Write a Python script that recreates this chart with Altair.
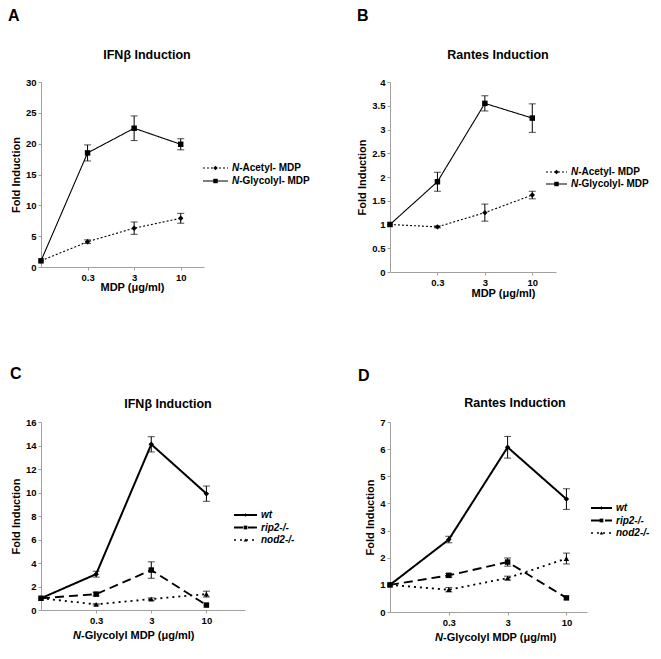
import altair as alt
import pandas as pd

FONT = "Liberation Sans"
AXIS_GRAY = "#a0a0a0"

# ---- data ----
doses = ["0", "0.3", "3", "10"]

ab_series = ["N-Acetyl- MDP", "N-Glycolyl- MDP"]
a_acetyl = [1.0, 4.1, 6.3, 7.9]
a_acetyl_err = [0.0, 0.3, 1.0, 0.8]
a_glyco = [1.0, 18.5, 22.5, 19.9]
a_glyco_err = [0.0, 1.3, 2.0, 0.9]

b_acetyl = [1.0, 0.95, 1.25, 1.62]
b_acetyl_err = [0.0, 0.02, 0.18, 0.08]
b_glyco = [1.0, 1.9, 3.55, 3.24]
b_glyco_err = [0.0, 0.2, 0.16, 0.3]

cd_series = ["wt", "rip2-/-", "nod2-/-"]
c_wt = [1.0, 3.05, 14.1, 9.9]
c_wt_err = [0.0, 0.25, 0.65, 0.65]
c_rip2 = [1.0, 1.35, 3.4, 0.42]
c_rip2_err = [0.0, 0.15, 0.7, 0.0]
c_nod2 = [1.0, 0.48, 0.93, 1.35]
c_nod2_err = [0.0, 0.05, 0.1, 0.25]

d_wt = [1.0, 2.67, 6.07, 4.16]
d_wt_err = [0.0, 0.12, 0.4, 0.38]
d_rip2 = [1.0, 1.35, 1.84, 0.52]
d_rip2_err = [0.0, 0.07, 0.15, 0.0]
d_nod2 = [1.0, 0.82, 1.25, 1.97]
d_nod2_err = [0.0, 0.08, 0.07, 0.2]

LABEL_EXPR = "[" + ",".join("'%s'" % d for d in doses) + "][datum.value]"


def make_df(series, vals_list, errs_list):
    rows = []
    for s, vals, errs in zip(series, vals_list, errs_list):
        for i, (v, e) in enumerate(zip(vals, errs)):
            rows.append(dict(series=s, pos=i, dose=doses[i], y=v, lo=v - e, hi=v + e, err=e))
    return pd.DataFrame(rows)


def axis_style(**kw):
    base = dict(labelFont=FONT, labelFontSize=9.5, labelFontWeight="bold", labelColor="black",
                titleFont=FONT, titleFontSize=11, titleFontWeight="bold", titleColor="black",
                domainColor=AXIS_GRAY, tickColor=AXIS_GRAY, tickSize=3, grid=False,
                labelOverlap=False)
    base.update(kw)
    return alt.Axis(**base)


def panel(letter, heading, series, vals, errs, shapes, sizes, dashes, widths,
          ymax, ystep, w, h, xmax, xtitle, xtitle_x, x_title_pad,
          head_xy, letter_xy, leg_xr, leg_yr, leg_size, leg_sw, italic_split,
          italic_xtitle=None):
    df = make_df(series, vals, errs)
    dfe = df[df["err"] > 0]
    yvals = []
    v = 0.0
    while v <= ymax + 1e-9:
        yvals.append(round(v, 3))
        v += ystep

    x_scale = alt.Scale(domain=[0, xmax], nice=False, zero=False)
    y_scale = alt.Scale(domain=[0, ymax], nice=False, zero=True)
    if italic_xtitle is None:
        x_axis = axis_style(values=[1, 2, 3], labelExpr=LABEL_EXPR, title=xtitle,
                            titleX=xtitle_x, titlePadding=x_title_pad, labelPadding=2)
    else:
        x_axis = axis_style(values=[1, 2, 3], labelExpr=LABEL_EXPR, title=None, labelPadding=2)
    y_axis = axis_style(values=yvals, format="~g", title="Fold Induction",
                        labelPadding=2, titlePadding=4)

    def xe(field="pos"):
        return alt.X(f"{field}:Q", scale=x_scale, axis=x_axis)

    def ye(field):
        return alt.Y(f"{field}:Q", scale=y_scale, axis=y_axis)

    def dash_enc():
        return alt.StrokeDash("series:N", scale=alt.Scale(domain=series, range=dashes), legend=None)

    def shape_enc():
        return alt.Shape("series:N", scale=alt.Scale(domain=series, range=shapes), legend=None)

    def width_enc(rng):
        return alt.StrokeWidth("series:N", scale=alt.Scale(domain=series, range=rng), legend=None)

    base = alt.Chart(df)
    lines = base.mark_line(color="black").encode(
        x=xe(), y=ye("y"), strokeDash=dash_enc(), strokeWidth=width_enc(widths))
    ebase = alt.Chart(dfe)
    rules = ebase.mark_rule(color="black", strokeWidth=1).encode(x=xe(), y=ye("lo"), y2="hi:Q")
    cap_lo = ebase.mark_tick(color="black", thickness=1, size=7, orient="horizontal").encode(x=xe(), y=ye("lo"))
    cap_hi = ebase.mark_tick(color="black", thickness=1, size=7, orient="horizontal").encode(x=xe(), y=ye("hi"))
    points = base.mark_point(filled=True, color="black", opacity=1).encode(
        x=xe(), y=ye("y"), shape=shape_enc(),
        size=alt.Size("series:N", scale=alt.Scale(domain=series, range=sizes), legend=None),
    )
    data_layer = alt.layer(lines, rules, cap_lo, cap_hi, points)

    # ---- legend drawn through its own small scales ----
    leg_rows = []
    for s in series:
        leg_rows.append(dict(series=s, lx=0.0))
        leg_rows.append(dict(series=s, lx=1.0))
    leg_line_df = pd.DataFrame(leg_rows)
    lab_rows = []
    for s in series:
        if italic_split:
            ital, rest = s[0], s[1:]
        else:
            ital, rest = s, ""
        lab_rows.append(dict(series=s, mid=0.5, end=1.0, ital=ital, rest=rest))
    leg_lab_df = pd.DataFrame(lab_rows)
    lx_scale = alt.Scale(domain=[0, 1], range=list(leg_xr))
    ly_scale = alt.Scale(type="point", domain=series, range=list(leg_yr), padding=0)
    lx = alt.X("lx:Q", scale=lx_scale, axis=None)
    ly = alt.Y("series:N", scale=ly_scale, axis=None)
    leg_line = alt.Chart(leg_line_df).mark_line(color="black").encode(
        x=lx, y=ly, strokeDash=dash_enc(), strokeWidth=width_enc(leg_sw), detail="series:N")
    leg_pt = alt.Chart(leg_lab_df).mark_point(filled=True, color="black", opacity=1, size=leg_size).encode(
        x=alt.X("mid:Q", scale=lx_scale, axis=None), y=ly, shape=shape_enc())
    txt_kw = dict(align="left", baseline="middle", font=FONT, fontSize=10, fontWeight="bold",
                  color="black")
    leg_ital = alt.Chart(leg_lab_df).mark_text(dx=4, fontStyle="italic", **txt_kw).encode(
        x=alt.X("end:Q", scale=lx_scale, axis=None), y=ly, text="ital:N")
    layers = [leg_line, leg_pt, leg_ital]
    if italic_split:
        leg_rest = alt.Chart(leg_lab_df).mark_text(dx=4 + 7.2, **txt_kw).encode(
            x=alt.X("end:Q", scale=lx_scale, axis=None), y=ly, text="rest:N")
        layers.append(leg_rest)
    legend_layer = alt.layer(*layers)

    label_df = pd.DataFrame({"letter": [letter], "heading": [heading]})
    letter_layer = alt.Chart(label_df).mark_text(
        align="left", baseline="top", font=FONT, fontSize=16, fontWeight="bold", color="black"
    ).encode(text="letter:N", x=alt.value(letter_xy[0]), y=alt.value(letter_xy[1]))
    head_layer = alt.Chart(label_df).mark_text(
        align="center", baseline="middle", font=FONT, fontSize=12.5, fontWeight="bold", color="black"
    ).encode(text="heading:N", x=alt.value(head_xy[0]), y=alt.value(head_xy[1]))
    all_layers = [data_layer, legend_layer, letter_layer, head_layer]

    if italic_xtitle is not None:
        x0, yoff = italic_xtitle
        xt_df = pd.DataFrame({"ital": [xtitle[0]], "rest": [xtitle[1:]]})
        xt_kw = dict(baseline="middle", font=FONT, fontSize=11, fontWeight="bold", color="black")
        xt_i = alt.Chart(xt_df).mark_text(align="right", fontStyle="italic", **xt_kw).encode(
            text="ital:N", x=alt.value(x0), y=alt.value(h + yoff))
        xt_r = alt.Chart(xt_df).mark_text(align="left", **xt_kw).encode(
            text="rest:N", x=alt.value(x0), y=alt.value(h + yoff))
        all_layers += [xt_i, xt_r]

    return alt.layer(*all_layers).resolve_scale(
        x="independent", y="independent", strokeDash="independent", shape="independent",
        strokeWidth="independent"
    ).properties(width=w, height=h)


panel_a = panel(
    "A", "IFNβ Induction", ab_series, [a_acetyl, a_glyco], [a_acetyl_err, a_glyco_err],
    ["diamond", "square"], [30, 30], [[2, 2], [1, 0]], [1.1, 1.1],
    30, 5, 163, 185, 3.5, "MDP (μg/ml)", 91, 0,
    (106, -27), (-33, -74), (162, 187), (86, 99), 20, [1.1, 1.1], True)

panel_b = panel(
    "B", "Rantes Induction", ab_series, [b_acetyl, b_glyco], [b_acetyl_err, b_glyco_err],
    ["diamond", "square"], [30, 30], [[2, 2], [1, 0]], [1.1, 1.1],
    4, 0.5, 166, 190, 3.5, "MDP (μg/ml)", 113, 1,
    (108, -27), (-33, -74), (156, 177), (90, 102), 20, [1.1, 1.1], True)

panel_c = panel(
    "C", "IFNβ Induction", cd_series, [c_wt, c_rip2, c_nod2], [c_wt_err, c_rip2_err, c_nod2_err],
    ["diamond", "square", "triangle-up"], [18, 70, 45], [[1, 0], [9, 5], [2, 4]], [2, 1.8, 1.8],
    16, 2, 204, 188, 3.7, "N-Glycolyl MDP (μg/ml)", 93, 6,
    (127, -18), (-31, -56), (193, 216), (93, 118), 14, [2.2, 1.4, 1.4], False,
    italic_xtitle=(40, 26))

panel_d = panel(
    "D", "Rantes Induction", cd_series, [d_wt, d_rip2, d_nod2], [d_wt_err, d_rip2_err, d_nod2_err],
    ["diamond", "square", "triangle-up"], [28, 70, 45], [[1, 0], [9, 5], [2, 4]], [2, 1.8, 1.8],
    7, 1, 197, 190, 3.35, "N-Glycolyl MDP (μg/ml)", 106, 6,
    (125, -19), (-32, -54), (201, 222), (86, 111), 14, [2.2, 1.4, 1.4], False,
    italic_xtitle=(53, 26))

chart = alt.concat(
    panel_a, panel_b, panel_c, panel_d, columns=2, bounds="flush",
    spacing={"row": 150, "column": 145},
).properties(padding=0).configure_view(stroke=None)

chart.save("out.html", embed_options={"renderer": "svg", "actions": False})
